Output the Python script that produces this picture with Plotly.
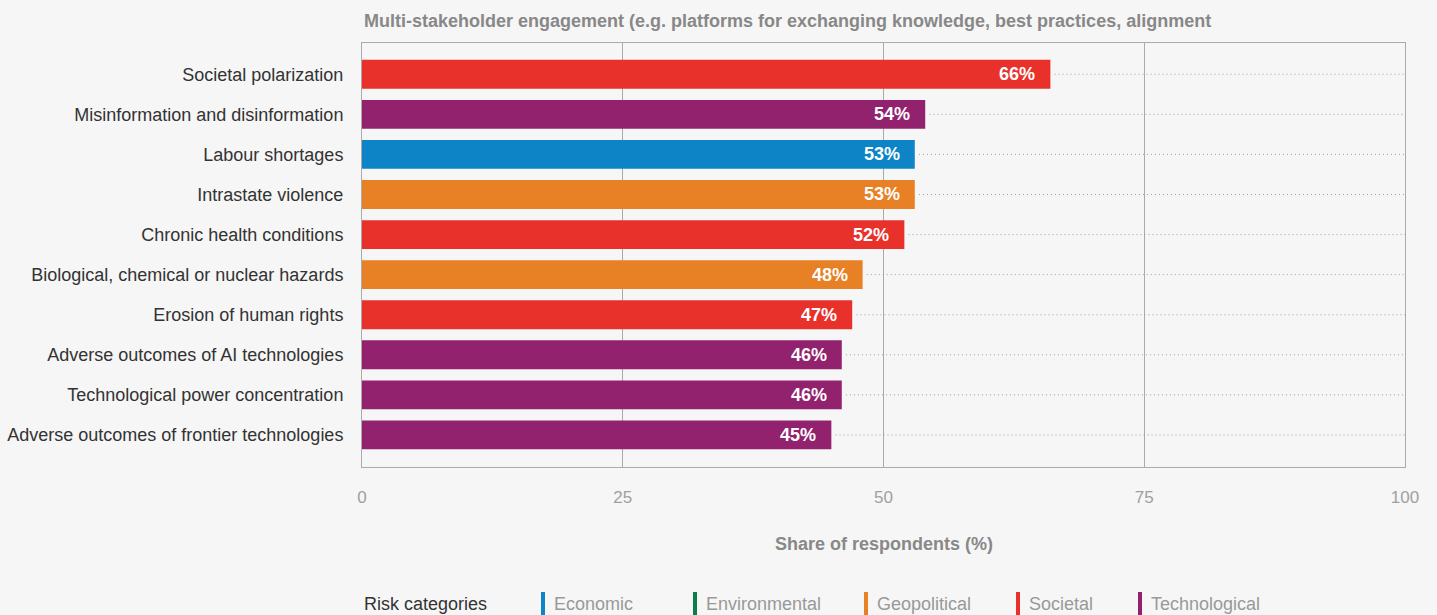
import plotly.graph_objects as go

risks = [
    "Societal polarization",
    "Misinformation and disinformation",
    "Labour shortages",
    "Intrastate violence",
    "Chronic health conditions",
    "Biological, chemical or nuclear hazards",
    "Erosion of human rights",
    "Adverse outcomes of AI technologies",
    "Technological power concentration",
    "Adverse outcomes of frontier technologies",
]
values = [66, 54, 53, 53, 52, 48, 47, 46, 46, 45]
risk_category = ["Societal", "Technological", "Economic", "Geopolitical", "Societal",
                 "Geopolitical", "Societal", "Technological", "Technological", "Technological"]

legend_categories = ["Economic", "Environmental", "Geopolitical", "Societal", "Technological"]
category_colors = {
    "Economic": "#0C84C6",
    "Environmental": "#0B7F4A",
    "Geopolitical": "#E88025",
    "Societal": "#E8312B",
    "Technological": "#93226E",
}
x_ticks = [0, 25, 50, 75, 100]

title_text = "Multi-stakeholder engagement (e.g. platforms for exchanging knowledge, best practices, alignment"
x_title = "Share of respondents (%)"

W, H = 1437, 615
ML, MR, MT, MB = 362, 32, 43, 148
PH = H - MT - MB
PW = W - ML - MR


def py(pix):
    return (H - MB - pix) / PH


def px(pix):
    return (pix - ML) / PW


FONT = "Liberation Sans, Arial, sans-serif"

fig = go.Figure()

# dotted leader lines
for r, v in zip(risks, values):
    fig.add_trace(go.Scatter(
        x=[v + 0.4, 100], y=[r, r], mode="lines",
        line=dict(color="#A0A0A0", width=1, dash="1px,3px"),
        hoverinfo="skip", showlegend=False,
    ))

fig.add_trace(go.Bar(
    x=values, y=risks, orientation="h",
    marker=dict(color=[category_colors[c] for c in risk_category], line=dict(width=0)),
    width=0.72, showlegend=False,
))

for r, v in zip(risks, values):
    fig.add_annotation(
        x=v, y=r, xref="x", yref="y", text=f"<b>{v}%</b>", showarrow=False,
        xanchor="right", xshift=-13, font=dict(color="white", size=18, family=FONT),
    )

fig.update_layout(
    width=W, height=H,
    margin=dict(l=ML, r=MR, t=MT, b=MB, autoexpand=False),
    paper_bgcolor="#F6F6F6", plot_bgcolor="#F6F6F6",
    xaxis=dict(
        range=[0, 100], tickvals=x_ticks, showgrid=True, gridcolor="#AAAAAA", gridwidth=1,
        zeroline=False, showline=True, linecolor="#AAAAAA", linewidth=1, mirror=True,
        ticks="", ticklabelstandoff=15, automargin=False,
        tickfont=dict(color="#A0A0A0", size=17, family=FONT),
    ),
    yaxis=dict(
        categoryorder="array", categoryarray=risks,
        range=[9.8, -0.78], showgrid=False, zeroline=False,
        showline=True, linecolor="#AAAAAA", linewidth=1, mirror=True,
        ticks="", ticklabelstandoff=14, automargin=False,
        tickfont=dict(color="#333333", size=18, family=FONT),
    ),
    font=dict(family=FONT),
    showlegend=False,
)

# title
fig.add_annotation(
    x=px(362), y=py(21), xref="paper", yref="paper", xanchor="left", yanchor="middle",
    text=f"<b>{title_text}</b>", showarrow=False,
    font=dict(color="#888888", size=18, family=FONT),
)
# x axis title
fig.add_annotation(
    x=0.5, y=py(544), xref="paper", yref="paper", xanchor="center", yanchor="middle",
    text=f"<b>{x_title}</b>", showarrow=False,
    font=dict(color="#888888", size=18, family=FONT),
)
# legend
fig.add_annotation(
    x=px(362), y=py(604), xref="paper", yref="paper", xanchor="left", yanchor="middle",
    text="Risk categories", showarrow=False,
    font=dict(color="#333333", size=18, family=FONT),
)
legend_x = [541, 693, 864, 1016, 1138]
for cat, lx in zip(legend_categories, legend_x):
    fig.add_shape(
        type="rect", xref="paper", yref="paper",
        x0=px(lx), x1=px(lx + 4), y0=py(615), y1=py(592),
        fillcolor=category_colors[cat], line=dict(width=0),
    )
    fig.add_annotation(
        x=px(lx + 11), y=py(604), xref="paper", yref="paper", xanchor="left", yanchor="middle",
        text=cat, showarrow=False,
        font=dict(color="#999999", size=18, family=FONT),
    )

fig.write_html(
    "out.html",
    config={"displayModeBar": False},
    post_script="document.body.style.margin='0';document.body.style.overflow='hidden';",
)
